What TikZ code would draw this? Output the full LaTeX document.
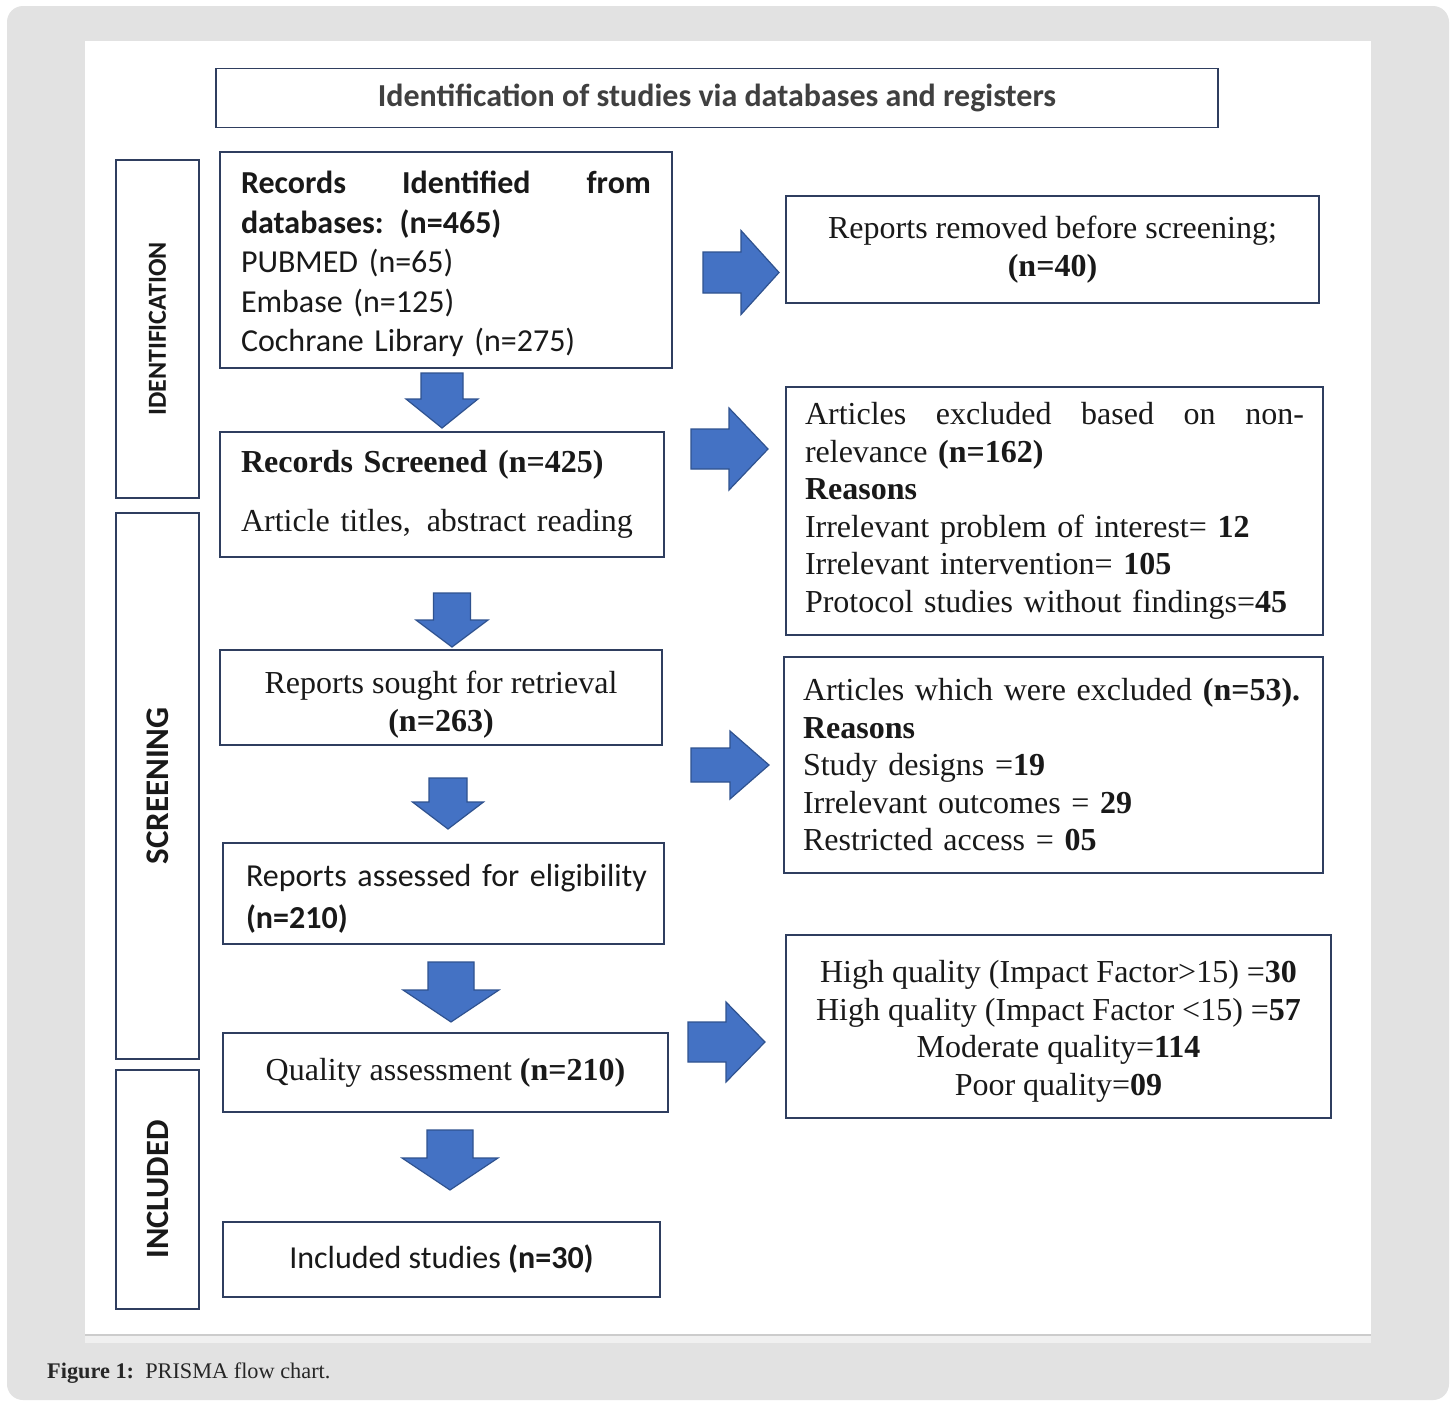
\documentclass[tikz,border=0pt]{standalone}
\usepackage{fontspec}
\setmainfont{Liberation Serif}
\newfontfamily\calibri{Carlito}

\definecolor{boxline}{RGB}{47,62,95}
\definecolor{arrowblue}{RGB}{68,114,196}
\definecolor{arrowline}{RGB}{47,82,143}
\definecolor{framegray}{RGB}{226,226,226}

% block arrows: x, top y, shaft half width, head half width, head y, tip y
\newcommand{\blockdown}[6]{\draw[blockarrow] (#1-#3,#2) -- (#1+#3,#2) -- (#1+#3,#5) -- (#1+#4,#5) -- (#1,#6) -- (#1-#4,#5) -- (#1-#3,#5) -- cycle;}
% tail x, mid y, shaft half width, head half width, head x, tip x
\newcommand{\blockright}[6]{\draw[blockarrow] (#1,#2-#3) -- (#5,#2-#3) -- (#5,#2-#4) -- (#6,#2) -- (#5,#2+#4) -- (#5,#2+#3) -- (#1,#2+#3) -- cycle;}

\begin{document}
\begin{tikzpicture}[x=1pt,y=-1pt,
    box/.style={draw=boxline, line width=1.8pt, inner sep=0pt, text=black!90},
    calfont/.style={font=\calibri\fontsize{32}{39.5}\selectfont},
    timesfont/.style={font=\fontsize{32}{38}\selectfont},
    sidebox/.style={box, rotate=90, minimum height=83pt},
    blockarrow/.style={fill=arrowblue, draw=arrowline, line width=1.2pt, line join=miter}]
  \useasboundingbox (0,0) rectangle (1453,1401);
  \fill[white] (0,0) rectangle (1453,1401);
  % page frame
  \fill[framegray, rounded corners=16pt] (7,6) rectangle (1449,1400);
  \fill[white] (85,41) rectangle (1371,1334);
  \fill[gray!12] (85,1336) rectangle (1371,1343);
  \draw[gray!40, line width=2pt] (85,1335) -- (1371,1335);

  \node[box, minimum width=1002pt, minimum height=59pt, text=black!75,
        font=\calibri\bfseries\fontsize{32}{36}\selectfont] (title) at (717,98)
        {Identification of studies via databases and registers};

  % stage labels
  \node[sidebox, minimum width=338pt, font=\calibri\bfseries\fontsize{26}{26}\selectfont] (ident) at (157.5,329) {IDENTIFICATION};
  \node[sidebox, minimum width=546pt, font=\calibri\bfseries\fontsize{33}{33}\selectfont] (screen) at (157.5,786) {SCREENING};
  \node[sidebox, minimum width=239pt, font=\calibri\bfseries\fontsize{32.5}{33}\selectfont] (incl) at (157.5,1189.5) {INCLUDED};

  % main column
  \node[box, calfont, minimum width=452pt, minimum height=216pt, text width=410pt, align=left] (recid) at (446,260)
        {\rule{0pt}{31pt}\textbf{Records\hfill Identified\hfill from}\\ \textbf{databases: (n=465)}\\ PUBMED (n=65)\\ Embase (n=125)\\ Cochrane Library (n=275)};
  \node[box, timesfont, minimum width=444pt, minimum height=125pt, text width=402pt, align=left] (recscr) at (442,494.5)
        {\textbf{Records Screened (n=425)}\\[21pt] Article titles,\, abstract reading};
  \node[box, timesfont, minimum width=442pt, minimum height=95pt, align=center] (sought) at (441,697.5)
        {\rule{0pt}{36pt}Reports sought for retrieval\\ \textbf{(n=263)}};
  \node[box, calfont, minimum width=441pt, minimum height=101pt, text width=395pt, align=left] (assessed) at (443.5,893.5)
        {\rule{0pt}{33pt}\mbox{Reports assessed for eligibility}\\[3pt] \textbf{(n=210)}};
  \node[box, timesfont, minimum width=445pt, minimum height=79pt, align=center] (quality) at (445.5,1072.5)
        {Quality assessment \textbf{(n=210)}};
  \node[box, calfont, minimum width=437pt, minimum height=75pt, align=center] (included) at (441.5,1259.5)
        {Included studies \textbf{(n=30)}};

  % side column
  \node[box, timesfont, minimum width=533pt, minimum height=107pt, align=center] (removed) at (1052.5,249.5)
        {Reports removed before screening;\\ \textbf{(n=40)}};
  \node[box, font=\fontsize{32}{37.5}\selectfont, minimum width=537pt, minimum height=248pt, text width=499pt, align=left] (nonrel) at (1054.5,511)
        {Articles\hfill excluded\hfill based\hfill on\hfill non-\\ relevance \textbf{(n=162)}\\ \textbf{Reasons}\\
         Irrelevant problem of interest= \textbf{12}\\ Irrelevant intervention= \textbf{105}\\ Protocol studies without findings=\textbf{45}};
  \node[box, font=\fontsize{32}{37.5}\selectfont, minimum width=539pt, minimum height=216pt, text width=501pt, align=left] (excl) at (1053.5,765)
        {Articles which were excluded \textbf{(n=53).}\\ \textbf{Reasons}\\ Study designs =\textbf{19}\\
         Irrelevant outcomes = \textbf{29}\\ Restricted access = \textbf{05}};
  \node[box, font=\fontsize{32}{37.5}\selectfont, minimum width=545pt, minimum height=183pt, align=center] (qualres) at (1058.5,1026.5)
        {\rule{0pt}{32pt}High quality (Impact Factor>15) =\textbf{30}\\ High quality (Impact Factor <15) =\textbf{57}\\
         Moderate quality=\textbf{114}\\ Poor quality=\textbf{09}};

  % arrows
  \blockdown{442}{373}{21}{36}{399}{428}
  \blockdown{452}{593}{18.5}{36}{620}{647}
  \blockdown{448}{778}{19}{35.5}{802}{829}
  \blockdown{451}{962}{23}{48}{990}{1022}
  \blockdown{450}{1130}{23}{48}{1158}{1190}
  \blockright{703}{272.5}{20.5}{42}{741}{779}
  \blockright{691}{449}{20}{41}{729}{768}
  \blockright{691}{765}{17}{34}{730}{769}
  \blockright{688}{1042}{20}{40}{726}{765}

  \node[anchor=west, inner sep=0pt, font=\fontsize{22.3}{26}\selectfont, text=black!85] (caption) at (47,1373)
        {\textbf{Figure 1:}\ \ PRISMA flow chart.};
\end{tikzpicture}
\end{document}
